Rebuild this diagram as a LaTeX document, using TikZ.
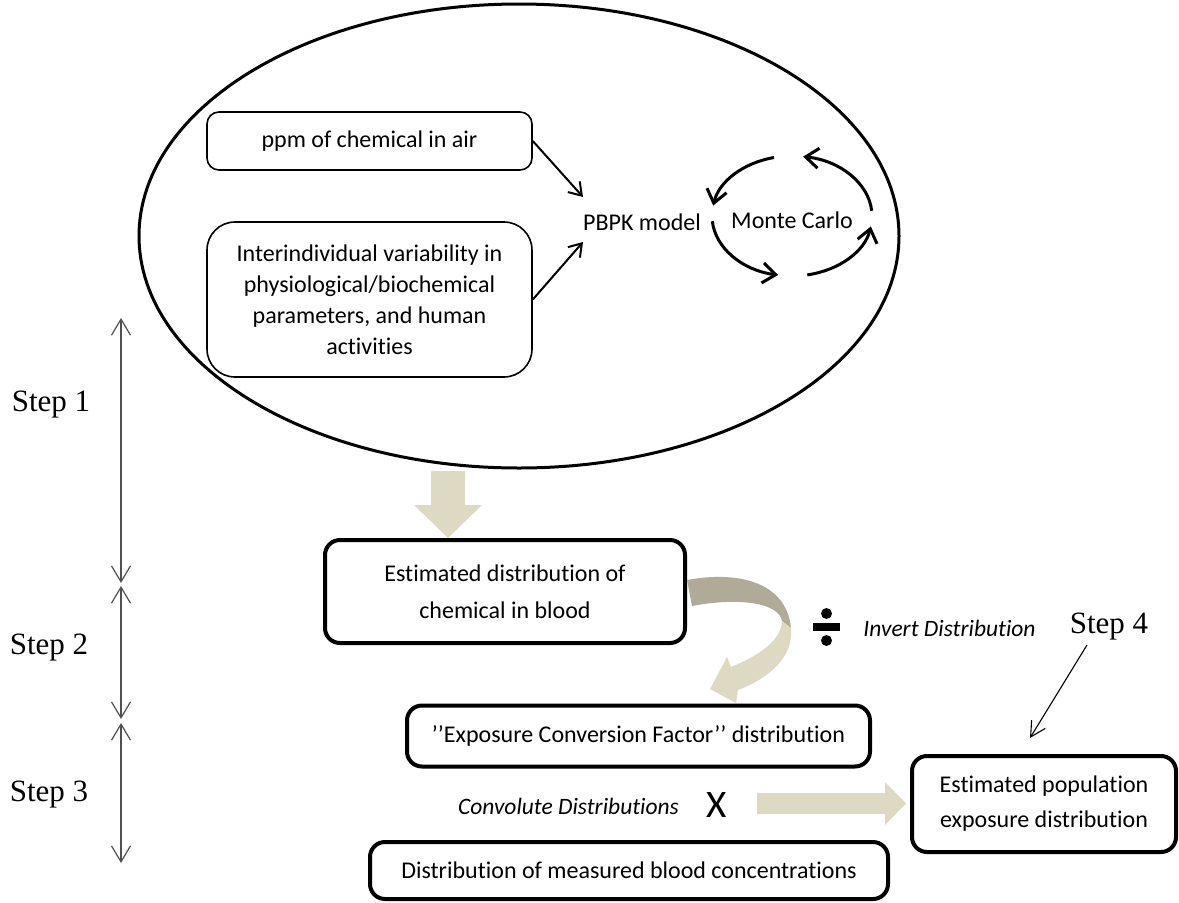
\documentclass[tikz,border=0pt]{standalone}
\usepackage{fontspec}
\setmainfont{Carlito}[Ligatures={NoCommon}]
\newfontfamily\serifstep{Liberation Serif}
\usetikzlibrary{shapes.geometric,arrows.meta}
\definecolor{beige}{RGB}{221,217,195}
\definecolor{ribbongray}{RGB}{175,171,152}
\definecolor{stepgray}{RGB}{80,80,80}
\begin{document}
\begin{tikzpicture}[x=1pt,y=-1pt,
  thinbox/.style={draw, line width=1.6pt, inner sep=0pt},
  thickbox/.style={draw, line width=4pt, rounded corners=15pt, inner sep=0pt},
  boxtext/.style={font=\fontsize{24}{31}\selectfont, align=center},
  itlabel/.style={font=\itshape\fontsize{23.5}{28}\selectfont},
  steplabel/.style={font=\serifstep\fontsize{31}{31}\selectfont},
  steparrow/.style={draw=stepgray, line width=1.2pt, {Straight Barb[length=16pt,width=19pt]}-{Straight Barb[length=16pt,width=19pt]}},
  pbarrow/.style={draw, line width=2pt, -{Straight Barb[length=12pt,width=16pt]}},
  mcarrow/.style={draw, line width=3pt, -{Straight Barb[length=13pt,width=20pt]}},
  thinarrow/.style={draw, line width=1.1pt, -{Straight Barb[length=15pt,width=16pt]}},
  blockarrow/.style={fill=beige, draw=none}
]
\useasboundingbox (0,0) rectangle (1179,903);

% big ellipse
\node[draw, ellipse, line width=3pt, minimum width=760, minimum height=464, inner sep=0pt] (ell) at (519,236) {};

% input boxes
\node[thinbox, rounded corners=12pt, minimum width=325, minimum height=58, boxtext] (ppm) at (369.5,141) {ppm of chemical in air};
\node[thinbox, rounded corners=28pt, minimum width=325, minimum height=155, boxtext] (inter) at (369.5,299.5)
  {Interindividual variability in\\physiological/biochemical\\parameters, and human\\activities};

% PBPK and Monte Carlo
\node[boxtext] (pbpk) at (642,222) {PBPK model};
\node[boxtext] (mc) at (792,220) {Monte Carlo};
\coordinate (tip1) at (583,197);
\coordinate (tip2) at (583,242);
\draw[pbarrow] (ppm.east) -- (tip1);
\draw[pbarrow] (inter.east) -- (tip2);

\coordinate (a1) at (774,157.5);
\coordinate (a2) at (712.3,221.2);
\coordinate (a3) at (807.3,274.9);
\coordinate (a4) at (871.7,210.8);
\draw[mcarrow] (a1) arc[start angle=103, end angle=170, x radius=80pt, y radius=60pt];
\draw[mcarrow] (a2) arc[start angle=185, end angle=260, x radius=80pt, y radius=60pt];
\draw[mcarrow] (a3) arc[start angle=281, end angle=350, x radius=80pt, y radius=60pt];
\draw[mcarrow] (a4) arc[start angle=5, end angle=82, x radius=80pt, y radius=60pt];

% down block arrow
\fill[blockarrow] (431,471) -- (465,471) -- (465,505) -- (482,505) -- (448,538) -- (414,505) -- (431,505) -- cycle;

% blood box
\node[thickbox, minimum width=360, minimum height=103, boxtext, font=\fontsize{24}{37}\selectfont] (blood) at (505,591.5)
  {Estimated distribution of\\chemical in blood};

% curved ribbon arrow
\fill[ribbongray] (687,580) .. controls (735,571) and (786,580) .. (791,628)
  -- (782,621) .. controls (779,603) and (740,597) .. (692,606) -- cycle;
\fill[beige] (791,628) .. controls (794,656) and (770,678) .. (738,690)
  -- (736,703) -- (710,689) -- (727,657) -- (731,667)
  .. controls (758,656) and (781,641) .. (782,621) -- cycle;

% divide sign
\fill (813,623) rectangle (840,631);
\fill (826.5,613.5) circle[radius=5.5pt];
\fill (826.5,640.5) circle[radius=5.5pt];
\node[itlabel] (invert) at (949.5,628) {Invert Distribution};

% step 4
\node[steplabel] (step4) at (1109,627) {Step 4};
\coordinate (s4a) at (1087,645);
\coordinate (s4b) at (1030,738);
\draw[thinarrow] (s4a) -- (s4b);

% ECF box
\node[thickbox, minimum width=463, minimum height=61, boxtext] (ecf) at (638.5,736)
  {’’Exposure Conversion Factor’’ distribution};

% convolute
\node[itlabel] (conv) at (568.5,806) {Convolute Distributions};
\node[font=\fontsize{39}{39}\selectfont, inner sep=0pt] (times) at (717,805) {X};

% right block arrow
\fill[blockarrow] (757,793) -- (885,793) -- (885,782) -- (906,803.5) -- (885,825) -- (885,814) -- (757,814) -- cycle;

% population box
\node[thickbox, minimum width=264, minimum height=96, boxtext, font=\fontsize{24}{35}\selectfont] (pop) at (1044,804)
  {Estimated population\\exposure distribution};

% measured box
\node[thickbox, minimum width=518, minimum height=57, boxtext] (meas) at (629,870.5)
  {Distribution of measured blood concentrations};

% steps on the left
\node[steplabel] (step1) at (51,405) {Step 1};
\node[steplabel] (step2) at (49,648) {Step 2};
\node[steplabel] (step3) at (49,795) {Step 3};
\coordinate (s1t) at (121,318);
\coordinate (s1b) at (121,583);
\coordinate (s2t) at (121,586);
\coordinate (s2b) at (121,719);
\coordinate (s3t) at (121,723);
\coordinate (s3b) at (121,863);
\draw[steparrow] (s1t) -- (s1b);
\draw[steparrow] (s2t) -- (s2b);
\draw[steparrow] (s3t) -- (s3b);
\end{tikzpicture}
\end{document}
